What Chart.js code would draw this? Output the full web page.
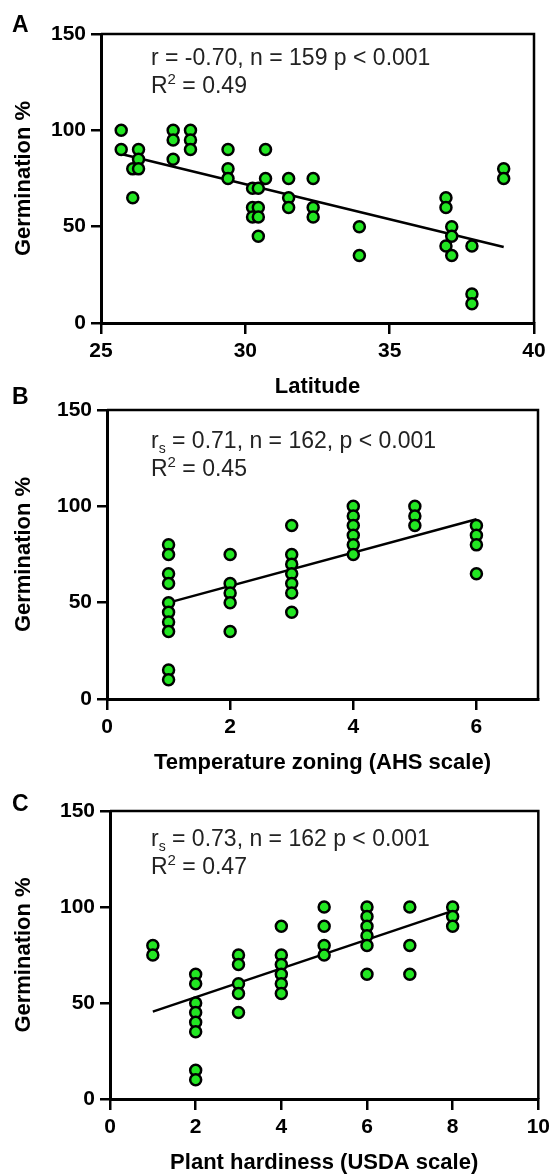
<!DOCTYPE html>
<html>
<head>
<meta charset="utf-8">
<script src="https://cdn.jsdelivr.net/npm/chart.js@4.4.1/dist/chart.umd.min.js"></script>
<style>
  body { margin: 0; background: #fff; }
  #wrap { position: relative; width: 555px; height: 1176px; }
  .panel { position: absolute; left: 0; width: 555px; }
</style>
</head>
<body>
<div id="wrap">
  <div class="panel" style="top:0px"><canvas id="chartA" width="555" height="400"></canvas></div>
  <div class="panel" style="top:380px"><canvas id="chartB" width="555" height="400"></canvas></div>
  <div class="panel" style="top:776px"><canvas id="chartC" width="555" height="400"></canvas></div>
</div>
<script>
// A: germination by latitude (x column -> values at that latitude)
const latitude = [25.7, 26.1, 26.3, 27.5, 28.1, 29.4, 30.25, 30.45, 30.7, 31.5, 32.35, 33.95, 36.95, 37.15, 37.85, 38.95];
const germLatitude = [
  [100, 90], [80, 65], [90, 85, 80], [100, 95, 85], [100, 95, 90], [90, 80, 75],
  [70, 60, 55], [70, 60, 55, 45], [90, 75], [75, 65, 60], [75, 60, 55], [50, 35],
  [65, 60, 40], [50, 45, 35], [40, 15, 10], [80, 75]
];
const latitudeFitX = [25.7, 38.95];
const latitudeFitY = [87.7, 39.4];
const latitudeTicks = [25, 30, 35, 40];

// B: germination by AHS temperature zone
const ahsZone = [1, 2, 3, 4, 5, 6];
const germAhs = [
  [80, 75, 65, 60, 50, 45, 40, 35, 15, 10],
  [75, 60, 55, 50, 35],
  [90, 75, 70, 65, 60, 55, 45],
  [100, 95, 90, 85, 80, 75],
  [100, 95, 90],
  [90, 85, 80, 65]
];
const ahsFitX = [1, 6];
const ahsFitY = [50, 93.3];
const ahsTicks = [0, 2, 4, 6];

// C: germination by USDA hardiness zone
const usdaZone = [1, 2, 3, 4, 5, 6, 7, 8];
const germUsda = [
  [80, 75],
  [65, 60, 50, 45, 40, 35, 15, 10],
  [75, 70, 60, 55, 45],
  [90, 75, 70, 65, 60, 55],
  [100, 90, 80, 75],
  [100, 95, 90, 85, 80, 65],
  [100, 80, 65],
  [100, 95, 90]
];
const usdaFitX = [1, 8];
const usdaFitY = [45.5, 98];
const usdaTicks = [0, 2, 4, 6, 8, 10];

const germTicks = [0, 50, 100, 150];

const FONT = '"Liberation Sans", Arial, Helvetica, sans-serif';

const panelDecor = {
  id: 'panelDecor',
  afterDraw(chart, args, o) {
    const { ctx, chartArea: a } = chart;
    ctx.save();
    // box frame on top and right
    ctx.strokeStyle = '#000';
    ctx.lineWidth = 2.5;
    ctx.beginPath();
    ctx.moveTo(a.left, a.top);
    ctx.lineTo(a.right, a.top);
    ctx.lineTo(a.right, a.bottom);
    ctx.stroke();

    // panel letter
    ctx.fillStyle = '#000';
    ctx.textBaseline = 'middle';
    ctx.textAlign = 'left';
    ctx.font = 'bold 23px ' + FONT;
    ctx.fillText(o.letter, 12, o.letterY);

    // statistics lines, with sub/superscripts
    ctx.fillStyle = '#222';
    o.lines.forEach((runs, i) => {
      let x = o.noteX;
      const y = o.noteY + i * 28;
      runs.forEach(r => {
        let size = 23, dy = 0;
        if (r.sub) { size = 14; dy = 7; }
        if (r.sup) { size = 15; dy = -7; }
        ctx.font = size + 'px ' + FONT;
        ctx.fillText(r.t, x, y + dy);
        x += ctx.measureText(r.t).width;
      });
    });
    ctx.restore();
  }
};

function points(xs, groups) {
  const out = [];
  xs.forEach((x, i) => groups[i].forEach(y => out.push({ x: x, y: y })));
  return out;
}

function makePanel(id, p) {
  const canvas = document.getElementById(id);
  const H = canvas.height;
  new Chart(canvas, {
    type: 'scatter',
    data: {
      datasets: [
        {
          data: points(p.xs, p.groups),
          backgroundColor: '#22e622',
          borderColor: '#000',
          borderWidth: 2.5,
          pointRadius: 5.5,
          pointHoverRadius: 5.5
        },
        {
          data: p.fitX.map((x, i) => ({ x: x, y: p.fitY[i] })),
          showLine: true,
          borderColor: '#000',
          borderWidth: 2.5,
          pointRadius: 0
        }
      ]
    },
    options: {
      responsive: false,
      animation: false,
      layout: { padding: { top: p.area.top, right: 555 - p.area.right, left: 0, bottom: 0 } },
      plugins: {
        legend: { display: false },
        tooltip: { enabled: false },
        panelDecor: { letter: p.letter, letterY: p.letterY, noteX: 151, noteY: p.noteY, lines: p.lines }
      },
      scales: {
        x: {
          type: 'linear',
          min: p.xMin,
          max: p.xMax,
          afterBuildTicks: s => { s.ticks = p.xTicks.map(v => ({ value: v })); },
          afterFit: s => { s.height = H - p.area.bottom; },
          grid: { drawOnChartArea: false, tickLength: 11, color: '#000', lineWidth: 2.5 },
          border: { color: '#000', width: 3 },
          ticks: { color: '#000', padding: 5, font: { family: FONT, size: 21, weight: 'bold' } },
          title: {
            display: true, text: p.xTitle, color: '#000',
            padding: { top: 0, bottom: p.titlePad },
            font: { family: FONT, size: 22, weight: 'bold', lineHeight: 1.2 }
          }
        },
        y: {
          min: 0,
          max: 150,
          afterBuildTicks: s => { s.ticks = germTicks.map(v => ({ value: v })); },
          afterFit: s => { s.width = p.area.left; },
          grid: { drawOnChartArea: false, tickLength: 10, color: '#000', lineWidth: 2.5 },
          border: { color: '#000', width: 3 },
          ticks: { color: '#000', padding: 5, font: { family: FONT, size: 21, weight: 'bold' } },
          title: {
            display: true, text: 'Germination %', color: '#000',
            padding: { top: 11, bottom: 0 },
            font: { family: FONT, size: 22, weight: 'bold', lineHeight: 1.2 }
          }
        }
      }
    },
    plugins: [panelDecor]
  });
}

makePanel('chartA', {
  xs: latitude, groups: germLatitude, fitX: latitudeFitX, fitY: latitudeFitY,
  xMin: 25, xMax: 40, xTicks: latitudeTicks, xTitle: 'Latitude',
  area: { left: 101, right: 534, top: 34, bottom: 323 }, titlePad: 0,
  letter: 'A', letterY: 26, noteY: 59,
  lines: [
    [{ t: 'r = -0.70, n = 159 p < 0.001' }],
    [{ t: 'R' }, { t: '2', sup: true }, { t: ' = 0.49' }]
  ]
});

makePanel('chartB', {
  xs: ahsZone, groups: germAhs, fitX: ahsFitX, fitY: ahsFitY,
  xMin: 0, xMax: 7, xTicks: ahsTicks, xTitle: 'Temperature zoning (AHS scale)',
  area: { left: 107, right: 538, top: 30, bottom: 319 }, titlePad: 4,
  letter: 'B', letterY: 18, noteY: 62,
  lines: [
    [{ t: 'r' }, { t: 's', sub: true }, { t: ' = 0.71, n = 162, p < 0.001' }],
    [{ t: 'R' }, { t: '2', sup: true }, { t: ' = 0.45' }]
  ]
});

makePanel('chartC', {
  xs: usdaZone, groups: germUsda, fitX: usdaFitX, fitY: usdaFitY,
  xMin: 0, xMax: 10, xTicks: usdaTicks, xTitle: 'Plant hardiness (USDA scale)',
  area: { left: 110, right: 542, top: 35, bottom: 323 }, titlePad: 0,
  letter: 'C', letterY: 29, noteY: 64,
  lines: [
    [{ t: 'r' }, { t: 's', sub: true }, { t: ' = 0.73, n = 162 p < 0.001' }],
    [{ t: 'R' }, { t: '2', sup: true }, { t: ' = 0.47' }]
  ]
});
</script>
</body>
</html>
